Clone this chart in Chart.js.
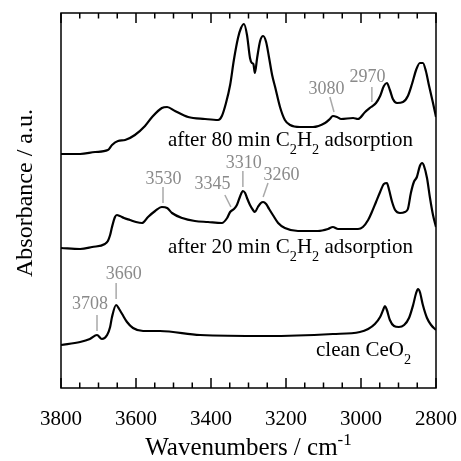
<!DOCTYPE html>
<html>
<head>
<meta charset="utf-8">
<script src="https://cdn.jsdelivr.net/npm/chart.js@4.4.0/dist/chart.umd.min.js"></script>
<style>
  body { margin: 0; background: #fff; }
</style>
</head>
<body>
<canvas id="grafico" width="461" height="461"></canvas>
<script>
// wavenumbers (cm-1) and absorbance (a.u., offset per spectrum)
const wn80 = [3800,3749,3709,3675,3664,3648,3629,3603,3576,3557,3531,3517,3496,3461,3416,3381,3371,3360,
  3349,3339,3328,3320,3312,3304,3296,3291,3287,3283,3277,3269,3261,3253,3245,3237,3229,3216,3203,3189,
  3163,3128,3096,3083,3075,3064,3053,3021,3008,2989,2973,2960,2949,2939,2931,2923,2915,2904,2888,2875,
  2864,2853,2843,2835,2827,2819,2808,2800];
const abs80 = [234,234,236,238,243,247,248,253,262,271,280,281,277,271,269,268,272,285,
  303,328,350,360,364,353,330,325,324,315,330,347,352,346,330,313,301,281,268,263,
  261,261,265,269,272,271,269,270,269,276,281,285,292,302,305,298,289,285,286,292,
  304,318,325,325,317,303,285,271];

const wn20 = [3800,3749,3717,3683,3675,3669,3664,3656,3651,3643,3632,3616,3600,3584,3568,3549,3531,3517,3504,3477,
  3443,3408,3371,3357,3349,3339,3331,3323,3315,3309,3304,3296,3288,3283,3275,3267,3261,3253,3245,3235,
  3221,3203,3168,3115,3088,3075,3061,3008,2995,2981,2971,2960,2949,2939,2931,2925,2917,2909,2896,2883,
  2875,2867,2859,2851,2843,2837,2832,2824,2816,2808,2800];
const abs20 = [140,139,141,144,147,153,161,171,173,172,170,168,166,165,171,177,181,180,175,170,
  167,166,165,170,176,179,183,191,197,195,190,183,178,176,181,185,186,184,179,173,
  165,160,157,157,159,161,159,159,161,168,176,186,196,204,205,198,186,178,175,176,
  179,195,206,211,222,225,222,210,190,173,161];

const wnLimpo = [3800,3749,3723,3704,3691,3677,3669,3664,3653,3645,3637,3624,3608,3581,3536,3429,3251,3075,3003,2981,
  2963,2949,2941,2936,2931,2923,2912,2899,2885,2872,2861,2853,2848,2843,2835,2824,2813,2800];
const absLimpo = [43,46,49,53,49,53,61,71,83,79,74,66,60,57,57,53,52,54,56,59,
  64,71,78,82,78,68,62,61,63,70,83,95,99,96,83,70,63,58];

const xTicks = [3800, 3600, 3400, 3200, 3000, 2800];

// peak labels: text, label position (wn, abs), leader line (wn1, abs1, wn2, abs2)
const picos = [
  ['3080', 3092, 299, 3083, 291, 3072, 276],
  ['2970', 2983, 311, 2971, 301, 2971, 286],
  ['3530', 3527, 209, 3528, 201, 3528, 185],
  ['3345', 3396, 204, 3363, 193, 3347, 181],
  ['3310', 3313, 225, 3315, 217, 3315, 201],
  ['3260', 3212, 213, 3248, 205, 3261, 191],
  ['3660', 3633, 114, 3653, 105, 3653, 89],
  ['3708', 3723, 84, 3704, 73, 3704, 57]
];

const serif = "'Liberation Serif', 'Times New Roman', serif";

function juntar(wn, ab) {
  return wn.map((v, i) => ({x: v, y: ab[i]}));
}

// draws text with sub/superscripts, parts = [[text, '' | 'sub' | 'sup'], ...]
function textoRico(ctx, partes, x, y, size, align) {
  const medidas = partes.map(p => {
    const s = p[1] ? size * 0.68 : size;
    ctx.font = s + 'px ' + serif;
    return ctx.measureText(p[0]).width;
  });
  const total = medidas.reduce((a, b) => a + b, 0);
  let cx = align === 'center' ? x - total / 2 : x;
  ctx.textBaseline = 'alphabetic';
  ctx.textAlign = 'left';
  partes.forEach((p, i) => {
    const s = p[1] ? size * 0.68 : size;
    ctx.font = s + 'px ' + serif;
    let dy = 0;
    if (p[1] === 'sub') dy = size * 0.36;
    if (p[1] === 'sup') dy = -size * 0.42;
    ctx.fillText(p[0], cx, y + dy);
    cx += medidas[i];
  });
}

const moldura = {
  id: 'moldura',
  afterDatasetsDraw(chart) {
    const {ctx, chartArea: a, scales: {x, y}} = chart;
    ctx.save();
    ctx.strokeStyle = '#000';
    ctx.lineWidth = 1.5;
    ctx.beginPath();
    for (let v = 2800; v <= 3800; v += 50) {
      const px = x.getPixelForValue(v);
      const len = (v % 200 === 0) ? 10 : 5.5;
      ctx.moveTo(px, a.bottom);
      ctx.lineTo(px, a.bottom - len);
      ctx.moveTo(px, a.top);
      ctx.lineTo(px, a.top + len);
    }
    ctx.stroke();
    ctx.strokeRect(a.left, a.top, a.right - a.left, a.bottom - a.top);

    // peak labels in grey
    ctx.strokeStyle = '#a9a9a9';
    ctx.lineWidth = 1.5;
    ctx.fillStyle = '#8a8a8a';
    ctx.font = '18px ' + serif;
    ctx.textAlign = 'center';
    ctx.textBaseline = 'middle';
    picos.forEach(p => {
      ctx.fillText(p[0], x.getPixelForValue(p[1]), y.getPixelForValue(p[2]));
      ctx.beginPath();
      ctx.moveTo(x.getPixelForValue(p[3]), y.getPixelForValue(p[4]));
      ctx.lineTo(x.getPixelForValue(p[5]), y.getPixelForValue(p[6]));
      ctx.stroke();
    });

    // spectrum names
    ctx.fillStyle = '#000';
    textoRico(ctx, [['after 80 min C', ''], ['2', 'sub'], ['H', ''], ['2', 'sub'], [' adsorption', '']],
      x.getPixelForValue(3515), y.getPixelForValue(242), 21, 'left');
    textoRico(ctx, [['after 20 min C', ''], ['2', 'sub'], ['H', ''], ['2', 'sub'], [' adsorption', '']],
      x.getPixelForValue(3515), y.getPixelForValue(135), 21, 'left');
    textoRico(ctx, [['clean CeO', ''], ['2', 'sub']],
      x.getPixelForValue(3120), y.getPixelForValue(32), 21, 'left');

    // axis titles
    textoRico(ctx, [['Wavenumbers / cm', ''], ['-1', 'sup']],
      (a.left + a.right) / 2, 455, 25, 'center');
    ctx.translate(32, 193);
    ctx.rotate(-Math.PI / 2);
    textoRico(ctx, [['Absorbance / a.u.', '']], 0, 0, 24, 'center');
    ctx.restore();
  }
};

const linha = {borderColor: '#000', borderWidth: 2.2, pointRadius: 0, fill: false, cubicInterpolationMode: 'monotone'};

new Chart(document.getElementById('grafico'), {
  type: 'line',
  data: {
    datasets: [
      {label: 'after 80 min', data: juntar(wn80, abs80), ...linha},
      {label: 'after 20 min', data: juntar(wn20, abs20), ...linha},
      {label: 'clean CeO2', data: juntar(wnLimpo, absLimpo), ...linha}
    ]
  },
  options: {
    responsive: false,
    animation: false,
    layout: {padding: {top: 13, right: 25, left: 0, bottom: 0}},
    plugins: {legend: {display: false}, tooltip: {enabled: false}},
    scales: {
      x: {
        type: 'linear',
        reverse: true,
        min: 2800,
        max: 3800,
        grid: {display: false},
        border: {display: false},
        afterFit: s => { s.height = 73; s.paddingLeft = 0; s.paddingRight = 0; },
        afterBuildTicks: s => { s.ticks = xTicks.map(v => ({value: v})); },
        ticks: {
          autoSkip: false,
          maxRotation: 0,
          padding: 11,
          color: '#000',
          font: {family: serif, size: 21},
          callback: v => String(v)
        }
      },
      y: {
        min: 0,
        max: 375,
        grid: {display: false},
        border: {display: false},
        afterFit: s => { s.width = 61; },
        ticks: {display: false},
        title: {display: false}
      }
    }
  },
  plugins: [moldura]
});
</script>
</body>
</html>
